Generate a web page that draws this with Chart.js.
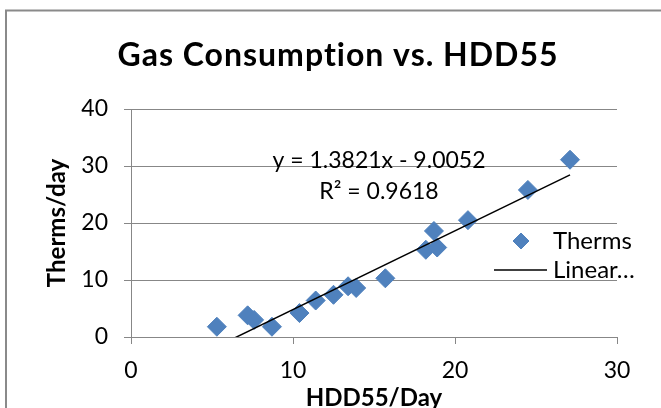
<!DOCTYPE html>
<html>
<head>
<meta charset="utf-8">
<title>Gas Consumption vs. HDD55</title>
<script src="https://cdn.jsdelivr.net/npm/chart.js@4.4.1/dist/chart.umd.min.js"></script>
<style>
  html, body { margin: 0; padding: 0; background: #fff; overflow: hidden; }
  #wrap { position: relative; width: 661px; height: 408px; }
</style>
</head>
<body>
<div id="wrap"><canvas id="gasChart" width="661" height="408"></canvas></div>
<script>
/* ── Data ── */
var hddPerDay    = [5.3, 7.2, 7.6, 8.7, 10.4, 11.4, 12.5, 13.4, 13.9, 15.7, 18.2, 18.7, 18.9, 20.8, 24.5, 27.1];
var thermsPerDay = [1.8, 3.8, 3.0, 1.8, 4.2, 6.4, 7.4, 8.9, 8.6, 10.3, 15.3, 18.6, 15.7, 20.5, 25.8, 31.1];
var xTickValues  = [0, 10, 20, 30];
var yTickValues  = [0, 10, 20, 30, 40];
var seriesNames  = ['Therms', 'Linear…'];
var chartTitle   = 'Gas Consumption vs. HDD55';
var trendSlope     = 1.3821;
var trendIntercept = -9.0052;
var trendR2        = 0.9618;

var MARKER = '#4F81BD';
var GRID   = '#878787';
var FONT   = 'Lato, "Open Sans", sans-serif';

/* scatter points + trendline over the data range */
var points = hddPerDay.map(function(x, i) { return { x: x, y: thermsPerDay[i] }; });
var xMin = Math.min.apply(null, hddPerDay);
var xMax = Math.max.apply(null, hddPerDay);
var trendPoints = [xMin, xMax].map(function(x) {
  return { x: x, y: trendSlope * x + trendIntercept };
});

/* ── Plugins: frame + title, equation label, legend ── */
var framePlugin = {
  id: 'frame',
  beforeDraw: function(chart) {
    var c = chart.ctx;
    c.save();
    c.fillStyle = '#fff';
    c.fillRect(0, 0, chart.width, chart.height);
    c.strokeStyle = '#8a8a8a';
    c.lineWidth = 2;
    c.strokeRect(6, 10.5, chart.width + 20, chart.height + 20);

    // title, centred on the frame rather than the plot
    c.fillStyle = '#000';
    c.font = 'bold 32px ' + FONT;
    if ('letterSpacing' in c) c.letterSpacing = '1px';
    c.textAlign = 'center';
    c.textBaseline = 'alphabetic';
    c.fillText(chartTitle, 338, 66);
    c.restore();
  }
};

var equationPlugin = {
  id: 'equation',
  afterDraw: function(chart) {
    var c = chart.ctx;
    var sign = trendIntercept < 0 ? ' - ' : ' + ';
    var line1 = 'y = ' + trendSlope.toFixed(4) + 'x' + sign + Math.abs(trendIntercept).toFixed(4);
    var line2 = 'R\u00B2 = ' + trendR2.toFixed(4);
    c.save();
    c.fillStyle = '#000';
    c.font = '23px ' + FONT;
    c.textAlign = 'center';
    c.textBaseline = 'alphabetic';
    c.fillText(line1, 379, 168);
    c.fillText(line2, 379, 199);
    c.restore();
  }
};

var legendPlugin = {
  id: 'sideLegend',
  afterDraw: function(chart) {
    var c = chart.ctx;
    c.save();
    c.font = '24px ' + FONT;
    c.textAlign = 'left';
    c.textBaseline = 'alphabetic';

    // marker entry
    c.fillStyle = MARKER;
    c.strokeStyle = MARKER;
    c.lineWidth = 1;
    Chart.helpers.drawPoint(c, { pointStyle: 'rectRot', radius: 8, borderWidth: 1 }, 521, 241);
    c.fillStyle = '#000';
    c.fillText(seriesNames[0], 553, 249);

    // trendline entry
    c.strokeStyle = '#000';
    c.lineWidth = 1.5;
    c.beginPath();
    c.moveTo(494, 270);
    c.lineTo(547, 270);
    c.stroke();
    c.fillText(seriesNames[1], 553, 278);
    c.restore();
  }
};

function setTicks(values) {
  return function(scale) {
    scale.ticks = values.map(function(v) { return { value: v }; });
  };
}

function draw() {
  Chart.defaults.font.family = FONT;
  Chart.defaults.color = '#000';

  new Chart(document.getElementById('gasChart').getContext('2d'), {
    type: 'scatter',
    data: {
      datasets: [
        {
          label: seriesNames[1],
          type: 'line',
          data: trendPoints,
          borderColor: '#000',
          borderWidth: 1.5,
          pointRadius: 0,
          fill: false,
          order: 0
        },
        {
          label: seriesNames[0],
          data: points,
          pointStyle: 'rectRot',
          pointRadius: 9.5,
          pointHoverRadius: 9.5,
          backgroundColor: MARKER,
          borderColor: MARKER,
          borderWidth: 1,
          order: 1
        }
      ]
    },
    options: {
      responsive: false,
      animation: false,
      devicePixelRatio: 1,
      layout: { padding: { left: 0, right: 44, top: 109, bottom: 0 } },
      scales: {
        x: {
          type: 'linear',
          min: 0,
          max: 30,
          afterBuildTicks: setTicks(xTickValues),
          afterFit: function(s) { s.height = 71; },
          ticks: { font: { size: 23 }, color: '#000', padding: 13 },
          grid: { drawOnChartArea: false, drawTicks: true, tickLength: 7, color: GRID, lineWidth: 1 },
          border: { color: GRID, width: 1 },
          title: {
            display: true,
            text: 'HDD55/Day',
            color: '#000',
            font: { size: 24, weight: 'bold', lineHeight: 1 },
            padding: { top: 0, bottom: -2 }
          }
        },
        y: {
          type: 'linear',
          min: 0,
          max: 40,
          afterBuildTicks: setTicks(yTickValues),
          afterFit: function(s) { s.width = 131; },
          ticks: { font: { size: 23 }, color: '#000', padding: 16 },
          grid: { drawTicks: true, tickLength: 7, color: GRID, lineWidth: 1 },
          border: { color: GRID, width: 1 },
          title: {
            display: true,
            text: 'Therms/day',
            color: '#000',
            font: { size: 24, weight: 'bold', lineHeight: 1.2 },
            padding: { top: 43, bottom: 0 }
          }
        }
      },
      plugins: {
        legend: { display: false },
        tooltip: { enabled: false },
        title: { display: false }
      }
    },
    plugins: [framePlugin, equationPlugin, legendPlugin]
  });
}

if (document.fonts && document.fonts.load) {
  Promise.all([
    document.fonts.load('22px Lato'),
    document.fonts.load('bold 31px Lato')
  ]).then(draw, draw);
} else {
  draw();
}
</script>
</body>
</html>
